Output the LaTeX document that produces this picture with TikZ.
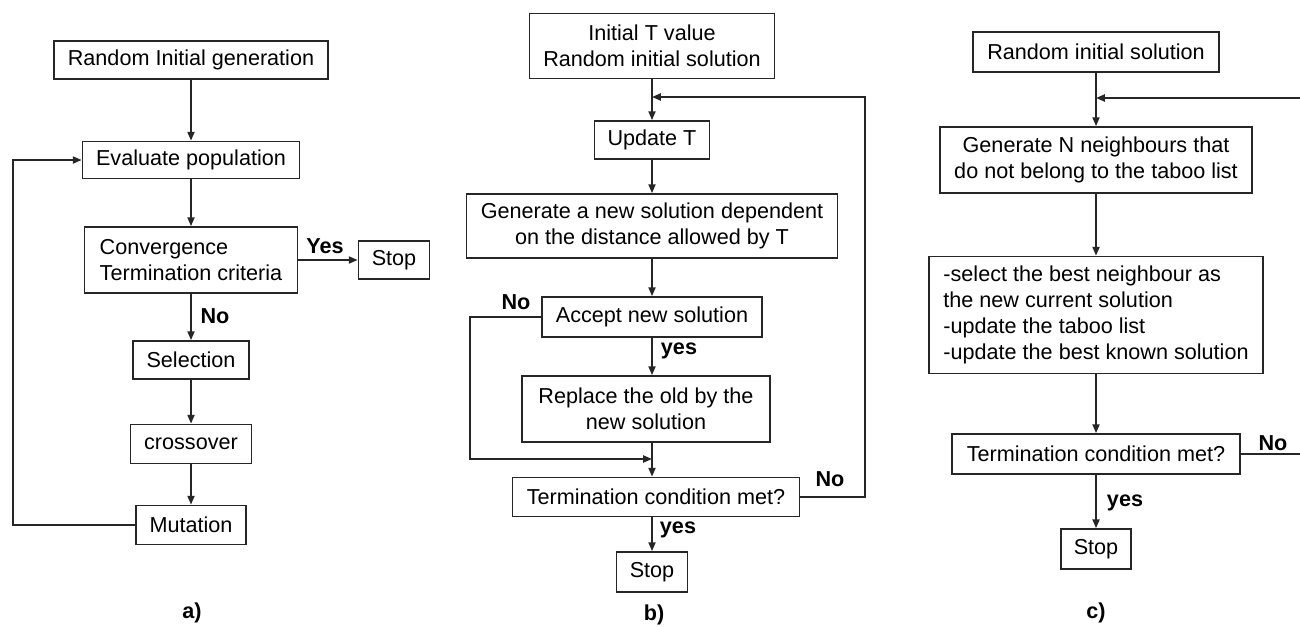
\documentclass[tikz,border=0pt]{standalone}
\usepackage{fontspec}
\setmainfont{Liberation Sans}
\usetikzlibrary{arrows.meta}

\begin{document}
\begin{tikzpicture}[x=0.02cm,y=-0.02cm,
    box/.style={draw=black!85,line width=1pt,inner sep=0pt,align=center,
      font=\fontsize{12.3}{14.6}\selectfont},
    lbl/.style={font=\bfseries\fontsize{12.3}{14.6}\selectfont},
    arr/.style={draw=black!85,line width=1pt,-{Triangle[length=5pt,width=4pt]}},
    lin/.style={draw=black!85,line width=1pt}]

  \useasboundingbox (0,0) rectangle (1300,626);

  % a) genetic algorithm
  \node[box,minimum width=5.48cm,minimum height=0.76cm] (ga1) at (191,60) {Random Initial generation};
  \node[box,minimum width=4.34cm,minimum height=0.74cm] (ga2) at (191,160) {Evaluate population};
  \node[box,minimum width=4.26cm,minimum height=1.32cm,align=left] (ga3) at (191,260)
    {Convergence\\Termination criteria};
  \node[box,minimum width=1.42cm,minimum height=0.76cm] (ga4) at (394,260) {Stop};
  \node[box,minimum width=2.32cm,minimum height=0.76cm] (ga5) at (191,360) {Selection};
  \node[box,minimum width=2.42cm,minimum height=0.78cm] (ga6) at (191,444) {crossover};
  \node[box,minimum width=2.2cm,minimum height=0.78cm] (ga7) at (191,525) {Mutation};
  \node[lbl] (capa) at (192,613) {a)};

  \draw[arr] (ga1) -- (ga2);
  \draw[arr] (ga2) -- (ga3);
  \draw[arr] (ga3) -- (ga4);
  \draw[arr] (ga3) -- (ga5);
  \draw[arr] (ga5) -- (ga6);
  \draw[arr] (ga6) -- (ga7);
  \draw[arr] (ga7.west) -- ++(-122,0) |- (ga2.west);
  \node[lbl] (yesa) at (325,246) {Yes};
  \node[lbl] (noa) at (215,316) {No};

  % b) simulated annealing
  \node[box,minimum width=4.9cm,minimum height=1.3cm] (sa1) at (652,46)
    {Initial T value\\Random initial solution};
  \node[box,minimum width=2.3cm,minimum height=0.76cm] (sa2) at (652,140) {Update T};
  \node[box,minimum width=7.42cm,minimum height=1.28cm] (sa3) at (652,226)
    {Generate a new solution dependent\\on the distance allowed by T};
  \node[box,minimum width=4.4cm,minimum height=0.8cm] (sa4) at (652,317) {Accept new solution};
  \node[box,minimum width=4.96cm,minimum height=1.32cm] (sa5) at (646,409)
    {Replace the old by the\\new solution};
  \node[box,minimum width=5.74cm,minimum height=0.78cm] (sa6) at (656,497) {Termination condition met?};
  \node[box,minimum width=1.42cm,minimum height=0.8cm] (sa7) at (652,572) {Stop};
  \node[lbl] (capb) at (654,615) {b)};
  \coordinate (jb1) at (652,97);
  \coordinate (jb2) at (652,459);

  \draw[arr] (sa1) -- (sa2);
  \draw[arr] (sa2) -- (sa3);
  \draw[arr] (sa3) -- (sa4);
  \draw[arr] (sa4.south) -- (sa4.south |- sa5.north);
  \draw[arr] (sa4.south |- sa5.south) -- (sa4.south |- sa6.north);
  \draw[arr] (sa6.south -| sa7) -- (sa7.north);
  \draw[arr] (sa4.west) -- ++(-71,0) |- (jb2);
  \draw[arr] (sa6.east) -- ++(65,0) |- (jb1);
  \node[lbl] (nob1) at (516,302) {No};
  \node[lbl] (yesb1) at (679,351) {yes};
  \node[lbl] (nob2) at (830,479) {No};
  \node[lbl] (yesb2) at (678,530) {yes};

  % c) taboo search
  \node[box,minimum width=4.92cm,minimum height=0.8cm] (ts1) at (1096,52) {Random initial solution};
  \node[box,minimum width=6.24cm,minimum height=1.32cm] (ts2) at (1096,160)
    {Generate N neighbours that\\do not belong to the taboo list};
  \node[box,minimum width=6.68cm,minimum height=2.34cm,align=left,
    font=\fontsize{12.3}{14.8}\selectfont] (ts3) at (1096,315)
    {-select the best neighbour as\\the new current solution\\-update the taboo list\\-update the best known solution};
  \node[box,minimum width=5.76cm,minimum height=0.8cm] (ts4) at (1096,454) {Termination condition met?};
  \node[box,minimum width=1.4cm,minimum height=0.8cm] (ts5) at (1096,549) {Stop};
  \node[lbl] (capc) at (1096,613) {c)};
  \coordinate (jc) at (1096,98);
  \coordinate (cout) at (1300,454);
  \coordinate (cin) at (1300,98);

  \draw[arr] (ts1) -- (ts2);
  \draw[arr] (ts2) -- (ts3);
  \draw[arr] (ts3) -- (ts4);
  \draw[arr] (ts4) -- (ts5);
  \draw[lin] (ts4.east) -- (cout);
  \draw[arr] (cin) -- (jc);
  \node[lbl] (noc) at (1273,443) {No};
  \node[lbl] (yesc) at (1125,503) {yes};

\end{tikzpicture}
\end{document}
